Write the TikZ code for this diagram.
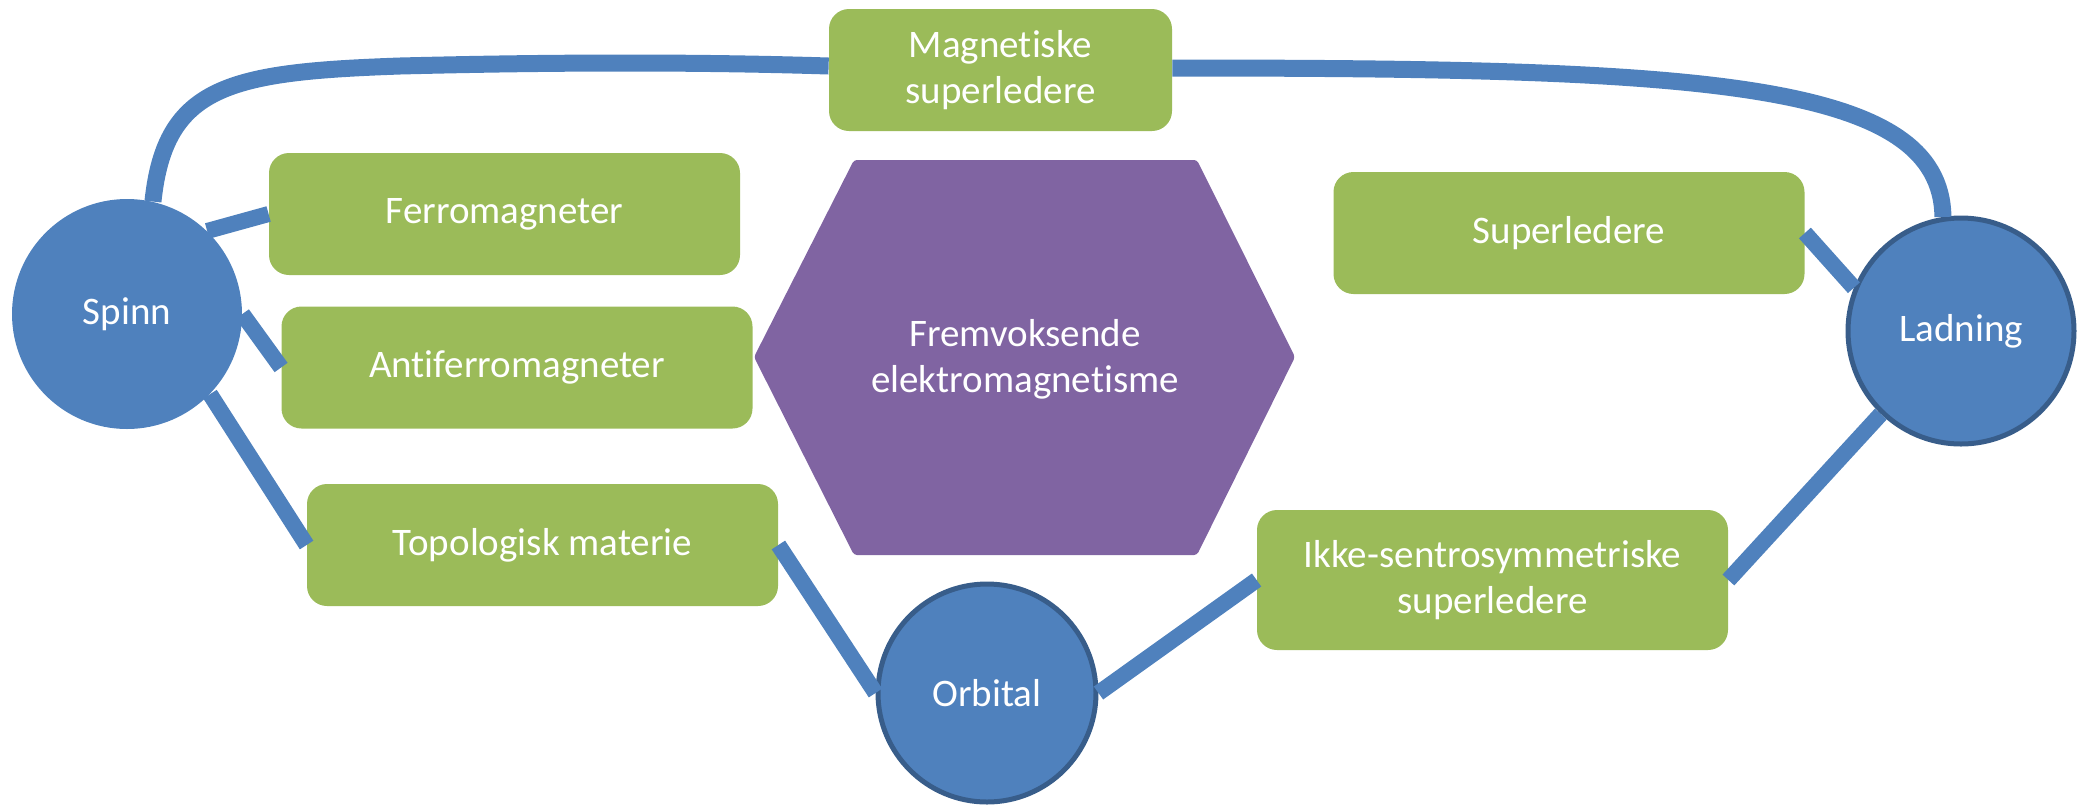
\documentclass[tikz,border=0pt]{standalone}
\usepackage{fontspec}
\setmainfont{Carlito}[Ligatures=NoCommon]
\definecolor{cblue}{HTML}{4F81BD}
\definecolor{cgreen}{HTML}{9BBB59}
\definecolor{cpurple}{HTML}{8064A2}
\definecolor{cborder}{HTML}{385D8A}
\begin{document}
\begin{tikzpicture}[x=0.5pt,y=-0.5pt,
  lbl/.style={text=white, align=center, font=\fontsize{19.5pt}{23pt}\selectfont},
  box/.style={lbl, fill=cgreen, rounded corners=10pt, minimum width=235.5pt, minimum height=61pt, inner sep=2pt},
  hub/.style={lbl, circle, fill=cblue, inner sep=0pt},
  hubb/.style={hub, draw=cborder, line width=2.5pt},
  link/.style={draw=cblue, line width=8pt},
  toplink/.style={draw=cblue, line width=8.5pt}]
\useasboundingbox (0,0) rectangle (2084,805);

% hexagon
\fill[cpurple, rounded corners=1.5pt] (754,357) -- (854,160) -- (1197,160) -- (1295,357) -- (1197,555) -- (854,555) -- cycle;
\node[lbl] (hex) at (1025,359) {Fremvoksende\\elektromagnetisme};

% boxes
\node[box, minimum width=171.5pt] (mag) at (1000.5,70) {Magnetiske\\superledere};
\node[box] (ferro) at (504.5,214) {Ferromagneter};
\node[box] (anti) at (517,367.5) {Antiferromagneter};
\node[box] (topo) at (542.5,545) {Topologisk materie};
\node[box] (super) at (1569,233) {Superledere};
\node[box, minimum height=70pt] (ikke) at (1492.5,580) {Ikke-sentrosymmetriske\\superledere};

% hubs
\node[hub, minimum size=115pt] (spinn) at (127,314) {Spinn};
\node[hubb, minimum size=113pt] (lad) at (1961,331) {Ladning};
\node[hubb, minimum size=109pt] (orb) at (987,693) {Orbital};

% connectors
\draw[toplink] (spinn.77) .. controls (165,85) and (230,72) .. (400,66)
  .. controls (560,62) and (700,62) .. ([yshift=2pt]mag.west);
\draw[toplink] ([yshift=1pt]mag.east) .. controls (1700,68) and (1941,80) .. (lad.99);
\draw[link] (spinn.46) -- (ferro.west);
\draw[link] (spinn.0) -- (anti.west);
\draw[link] (spinn.-44) -- (topo.west);
\draw[link] (topo.east) -- (orb.west);
\draw[link] (orb.east) -- (ikke.west);
\draw[link] (ikke.east) -- (lad.226);
\draw[link] (super.east) -- (lad.158);
\end{tikzpicture}
\end{document}
